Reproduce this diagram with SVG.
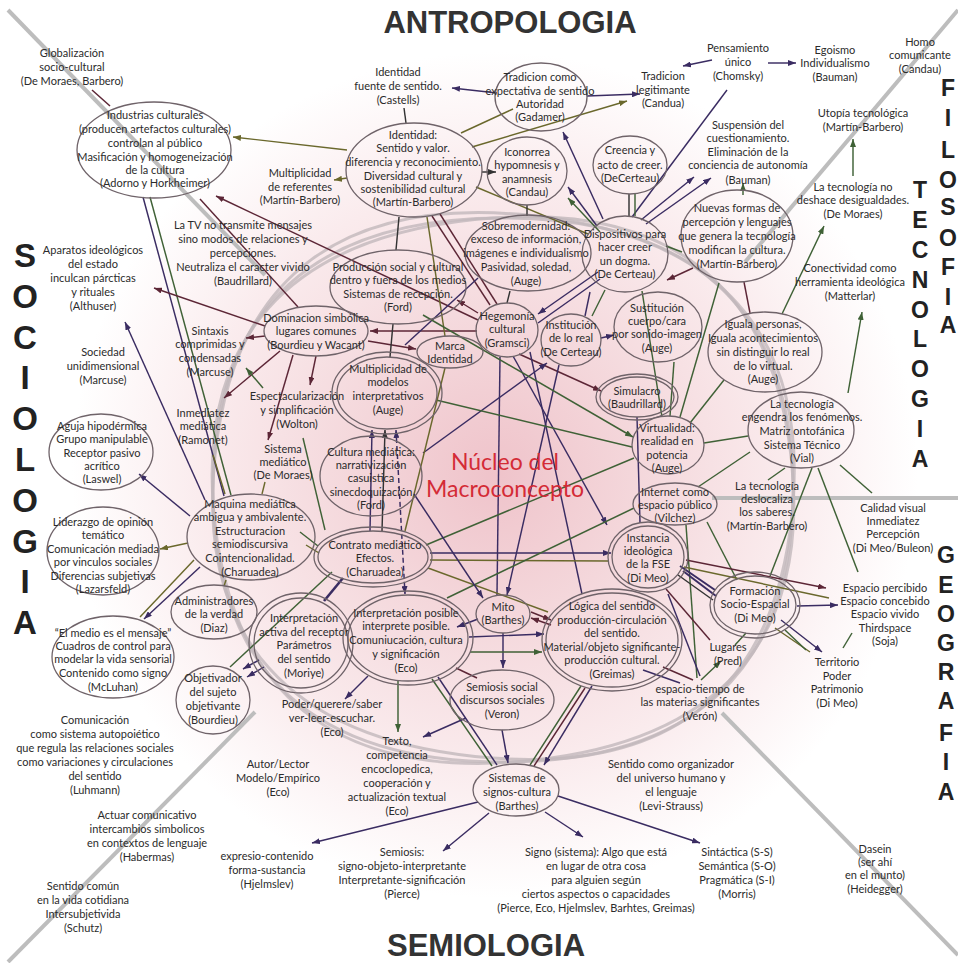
<svg xmlns="http://www.w3.org/2000/svg" width="958" height="963" viewBox="0 0 958 963">
<defs>
<radialGradient id="bg" gradientUnits="userSpaceOnUse" cx="495" cy="475" r="470">
<stop offset="0" stop-color="#efc3ca"/>
<stop offset="0.3" stop-color="#f4d7db"/>
<stop offset="0.62" stop-color="#faebed"/>
<stop offset="0.9" stop-color="#ffffff"/>
</radialGradient>
<marker id="aN" markerWidth="8" markerHeight="6" refX="8" refY="3" orient="auto" markerUnits="userSpaceOnUse"><path d="M0,0 L8,3 L0,6 z" fill="#3a2c62"/></marker>
<marker id="aNs" markerWidth="8" markerHeight="6" refX="0" refY="3" orient="auto" markerUnits="userSpaceOnUse"><path d="M8,0 L0,3 L8,6 z" fill="#3a2c62"/></marker>
<marker id="aG" markerWidth="8" markerHeight="6" refX="8" refY="3" orient="auto" markerUnits="userSpaceOnUse"><path d="M0,0 L8,3 L0,6 z" fill="#3f6136"/></marker>
<marker id="aM" markerWidth="8" markerHeight="6" refX="8" refY="3" orient="auto" markerUnits="userSpaceOnUse"><path d="M0,0 L8,3 L0,6 z" fill="#5c2636"/></marker>
<marker id="aO" markerWidth="8" markerHeight="6" refX="8" refY="3" orient="auto" markerUnits="userSpaceOnUse"><path d="M0,0 L8,3 L0,6 z" fill="#6a682c"/></marker>
<marker id="aD" markerWidth="8" markerHeight="6" refX="8" refY="3" orient="auto" markerUnits="userSpaceOnUse"><path d="M0,0 L8,3 L0,6 z" fill="#333"/></marker>
<path id="ring" d="M213,490 C213,305 318,218 503,218 C688,218 793,305 793,490 C793,675 688,762 503,762 C318,762 213,675 213,490 Z"/>
</defs>
<style>
.t{font-family:Lato,"Liberation Sans",Arial,sans-serif;font-size:11px;fill:#2b2b2b;text-anchor:middle}
.e{fill:none;stroke:#6f6369;stroke-width:1.3}
.ti{font-family:"Liberation Sans",Arial,sans-serif;font-weight:bold;font-size:31px;fill:#333;text-anchor:middle}
.v{font-family:"Liberation Sans",Arial,sans-serif;font-weight:bold;fill:#222;text-anchor:middle}
.vs{font-size:33px}
.vr{font-size:23px}
.nuc{font-family:Lato,"Liberation Sans",Arial,sans-serif;font-size:23px;fill:#d42b36;text-anchor:middle}
.g{fill:none;stroke:#bdbdbd;stroke-width:4}
.gc{fill:none;stroke:#c2b8bb;stroke-width:3;opacity:0.8}
line{stroke-width:1.45;fill:none}
.nav{stroke:#3a2c62}
.grn{stroke:#3f6136}
.mar{stroke:#5c2636}
.olv{stroke:#6a682c}
.dk{stroke:#333}
</style>
<rect width="958" height="963" fill="#fff"/>
<rect width="958" height="963" fill="url(#bg)"/>
<g id="background-lines">
<line class="g" x1="8" y1="10" x2="265" y2="275"/>
<line class="g" x1="958" y1="10" x2="745" y2="262"/>
<line class="g" x1="8" y1="962" x2="255" y2="712"/>
<line class="g" x1="722" y1="713" x2="958" y2="955"/>
<line class="g" x1="712" y1="498" x2="958" y2="498"/>
<use href="#ring" class="gc"/>
<use href="#ring" class="gc" transform="rotate(-6 503 490)"/>
<use href="#ring" class="gc" transform="rotate(6 503 490) translate(0 -4)"/>
</g>
<g id="titles">
<text class="ti" x="510" y="33">ANTROPOLOGIA</text>
<text class="ti" x="486" y="956">SEMIOLOGIA</text>
<g class="v vs">
<text x="25" y="267">S</text><text x="25" y="308">O</text><text x="25" y="349">C</text><text x="25" y="389">I</text><text x="25" y="430">O</text><text x="25" y="471">L</text><text x="25" y="512">O</text><text x="25" y="553">G</text><text x="25" y="593">I</text><text x="25" y="634">A</text>
</g>
<g class="v vr">
<text x="948" y="96">F</text><text x="948" y="126">I</text><text x="948" y="158">L</text><text x="948" y="188">O</text><text x="948" y="215">S</text><text x="948" y="246">O</text><text x="948" y="275">F</text><text x="948" y="305">I</text><text x="948" y="333">A</text>
<text x="920" y="198">T</text><text x="920" y="228">E</text><text x="920" y="258">C</text><text x="920" y="288">N</text><text x="920" y="318">O</text><text x="920" y="347">L</text><text x="920" y="377">O</text><text x="920" y="407">G</text><text x="920" y="437">I</text><text x="920" y="467">A</text>
<text x="946" y="563">G</text><text x="946" y="593">E</text><text x="946" y="622">O</text><text x="946" y="651">G</text><text x="946" y="680">R</text><text x="946" y="709">A</text><text x="946" y="741">F</text><text x="946" y="770">I</text><text x="946" y="800">A</text>
</g>
</g>
<g id="connectors">
<line class="mar" x1="92" y1="90" x2="110" y2="106"/>
<line class="olv" x1="347" y1="150" x2="233" y2="137" marker-end="url(#aO)"/>
<line class="olv" x1="347" y1="178" x2="334" y2="180" marker-end="url(#aO)"/>
<line class="dk" x1="406" y1="123" x2="404" y2="108"/>
<line class="olv" x1="461" y1="133" x2="513" y2="109"/>
<line class="olv" x1="472" y1="147" x2="627" y2="101" marker-end="url(#aO)"/>
<line class="nav" x1="497" y1="93" x2="452" y2="88" marker-end="url(#aN)"/>
<line class="nav" x1="587" y1="96" x2="640" y2="94" marker-end="url(#aN)"/>
<line class="nav" x1="712" y1="60" x2="683" y2="66" marker-end="url(#aN)"/>
<line class="nav" x1="768" y1="63" x2="796" y2="63" marker-end="url(#aN)"/>
<line class="dk" x1="482" y1="172" x2="496" y2="172" marker-end="url(#aD)"/>
<line class="olv" x1="476" y1="187" x2="588" y2="234"/>
<line class="nav" x1="603" y1="219" x2="563" y2="132" marker-end="url(#aN)"/>
<line class="nav" x1="597" y1="226" x2="568" y2="187" marker-end="url(#aN)"/>
<line class="grn" x1="600" y1="232" x2="568" y2="198" marker-end="url(#aG)"/>
<line class="dk" x1="527" y1="205" x2="527" y2="216"/>
<line class="nav" x1="632" y1="217" x2="727" y2="90"/>
<line class="nav" x1="641" y1="220" x2="694" y2="177" marker-end="url(#aN)"/>
<line class="nav" x1="646" y1="224" x2="711" y2="178" marker-end="url(#aN)"/>
<line class="dk" x1="629" y1="216" x2="629" y2="194"/>
<line class="grn" x1="635" y1="216" x2="635" y2="194"/>
<line class="grn" x1="666" y1="246" x2="682" y2="252"/>
<line class="grn" x1="743" y1="195" x2="743" y2="183" marker-end="url(#aG)"/>
<line class="grn" x1="853" y1="176" x2="853" y2="139" marker-end="url(#aG)"/>
<line class="grn" x1="782" y1="314" x2="824" y2="226" marker-end="url(#aG)"/>
<line class="mar" x1="744" y1="282" x2="750" y2="313"/>
<line class="grn" x1="848" y1="393" x2="862" y2="312" marker-end="url(#aG)"/>
<line class="grn" x1="680" y1="417" x2="719" y2="283"/>
<line class="grn" x1="670" y1="416" x2="674" y2="362"/>
<line class="grn" x1="662" y1="417" x2="642" y2="291"/>
<line class="grn" x1="690" y1="423" x2="724" y2="380"/>
<line class="grn" x1="704" y1="443" x2="748" y2="436"/>
<line class="mar" x1="693" y1="268" x2="667" y2="280" marker-end="url(#aM)"/>
<line class="mar" x1="478" y1="320" x2="216" y2="196" marker-end="url(#aM)"/>
<line class="nav" x1="143" y1="197" x2="224" y2="496"/>
<line class="grn" x1="150" y1="197" x2="231" y2="495"/>
<line class="mar" x1="200" y1="199" x2="298" y2="307"/>
<line class="mar" x1="265" y1="326" x2="154" y2="288" marker-end="url(#aM)"/>
<line class="mar" x1="265" y1="336" x2="246" y2="338" marker-end="url(#aM)"/>
<line class="mar" x1="280" y1="351" x2="224" y2="398" marker-end="url(#aM)"/>
<line class="mar" x1="293" y1="355" x2="268" y2="440" marker-end="url(#aM)"/>
<line class="mar" x1="316" y1="356" x2="310" y2="385" marker-end="url(#aM)"/>
<line class="nav" x1="205" y1="500" x2="125" y2="322" marker-end="url(#aN)"/>
<line class="grn" x1="263" y1="388" x2="246" y2="368" marker-end="url(#aG)"/>
<line class="grn" x1="303" y1="438" x2="325" y2="530"/>
<line class="olv" x1="213" y1="455" x2="225" y2="494"/>
<line class="olv" x1="265" y1="482" x2="262" y2="494"/>
<line class="dk" x1="510" y1="291" x2="507" y2="303"/>
<line class="mar" x1="478" y1="313" x2="457" y2="300" marker-end="url(#aM)"/>
<line class="mar" x1="477" y1="331" x2="370" y2="331" marker-end="url(#aM)"/>
<line class="mar" x1="368" y1="341" x2="416" y2="349" marker-end="url(#aM)"/>
<line class="dk" x1="393" y1="324" x2="390" y2="357"/>
<line class="dk" x1="399" y1="217" x2="396" y2="250"/>
<line class="olv" x1="427" y1="217" x2="445" y2="336"/>
<line class="mar" x1="432" y1="216" x2="490" y2="305"/>
<line class="mar" x1="440" y1="214" x2="497" y2="304"/>
<line class="nav" x1="405" y1="345" x2="478" y2="278"/>
<line class="nav" x1="598" y1="272" x2="538" y2="314" marker-end="url(#aN)"/>
<line class="nav" x1="600" y1="279" x2="538" y2="323"/>
<line class="nav" x1="601" y1="338" x2="614" y2="335" marker-end="url(#aN)"/>
<line class="nav" x1="590" y1="292" x2="585" y2="316"/>
<line class="grn" x1="605" y1="290" x2="592" y2="316"/>
<line class="mar" x1="519" y1="354" x2="601" y2="391" marker-end="url(#aM)"/>
<line class="nav" x1="423" y1="453" x2="547" y2="363" marker-end="url(#aN)"/>
<line class="nav" x1="559" y1="365" x2="507" y2="595" marker-end="url(#aN)"/>
<line class="nav" x1="500" y1="357" x2="497" y2="595"/>
<line class="nav" x1="513" y1="356" x2="607" y2="525" marker-end="url(#aN)"/>
<line class="nav" x1="530" y1="352" x2="582" y2="594"/>
<line class="grn" x1="423" y1="315" x2="633" y2="437" marker-end="url(#aG)"/>
<line class="grn" x1="436" y1="400" x2="632" y2="447"/>
<line class="olv" x1="445" y1="368" x2="405" y2="531"/>
<line class="nav" x1="637" y1="417" x2="640" y2="523"/>
<line class="nav" x1="430" y1="553" x2="611" y2="553" marker-end="url(#aN)"/>
<line class="olv" x1="430" y1="560" x2="608" y2="561"/>
<line class="olv" x1="428" y1="568" x2="548" y2="612"/>
<line class="grn" x1="426" y1="545" x2="634" y2="458"/>
<line class="grn" x1="447" y1="598" x2="634" y2="508"/>
<line class="nav" x1="414" y1="494" x2="483" y2="598" marker-end="url(#aN)"/>
<line class="nav" x1="478" y1="619" x2="457" y2="627" marker-end="url(#aN)"/>
<line class="nav" x1="503" y1="633" x2="503" y2="668" marker-end="url(#aN)"/>
<line class="mar" x1="531" y1="612" x2="551" y2="620" marker-end="url(#aM)"/>
<line class="mar" x1="551" y1="625" x2="531" y2="618" marker-end="url(#aM)"/>
<line class="nav" x1="469" y1="637" x2="544" y2="634" marker-end="url(#aN)"/>
<line class="grn" x1="470" y1="652" x2="542" y2="652" marker-end="url(#aG)"/>
<line class="mar" x1="456" y1="668" x2="477" y2="678"/>
<line class="nav" x1="396" y1="430" x2="405" y2="594" stroke-dasharray="5,3" marker-start="url(#aNs)" marker-end="url(#aN)"/>
<line class="nav" x1="370" y1="531" x2="372" y2="430" marker-end="url(#aN)"/>
<line class="dk" x1="382" y1="531" x2="385" y2="430" marker-end="url(#aD)"/>
<line class="nav" x1="343" y1="578" x2="324" y2="601" style="stroke-width:2.6"/>
<line class="grn" x1="318" y1="546" x2="300" y2="532"/>
<line class="olv" x1="319" y1="553" x2="306" y2="545"/>
<line class="grn" x1="398" y1="681" x2="398" y2="732" marker-end="url(#aG)"/>
<line class="nav" x1="368" y1="676" x2="345" y2="699" marker-end="url(#aN)"/>
<line class="grn" x1="432" y1="679" x2="492" y2="766"/>
<line class="nav" x1="438" y1="677" x2="497" y2="765"/>
<line class="nav" x1="466" y1="718" x2="423" y2="737" marker-end="url(#aN)"/>
<line class="nav" x1="502" y1="730" x2="508" y2="763" marker-end="url(#aN)"/>
<line class="grn" x1="581" y1="686" x2="530" y2="765"/>
<line class="mar" x1="585" y1="688" x2="534" y2="766"/>
<line class="nav" x1="592" y1="686" x2="544" y2="765" marker-end="url(#aN)"/>
<line class="nav" x1="478" y1="802" x2="312" y2="843" marker-end="url(#aN)"/>
<line class="nav" x1="489" y1="813" x2="443" y2="851" marker-end="url(#aN)"/>
<line class="nav" x1="545" y1="812" x2="583" y2="837" marker-end="url(#aN)"/>
<line class="nav" x1="558" y1="796" x2="700" y2="843" marker-end="url(#aN)"/>
<line class="grn" x1="698" y1="487" x2="750" y2="452"/>
<line class="grn" x1="686" y1="525" x2="697" y2="678"/>
<line class="grn" x1="701" y1="680" x2="721" y2="661" marker-end="url(#aG)"/>
<line class="grn" x1="707" y1="522" x2="737" y2="580"/>
<line class="nav" x1="680" y1="566" x2="715" y2="590" style="stroke-width:2"/>
<line class="nav" x1="683" y1="571" x2="716" y2="596" style="stroke-width:2"/>
<line class="dk" x1="678" y1="575" x2="713" y2="600"/>
<line class="mar" x1="686" y1="560" x2="826" y2="588" marker-end="url(#aM)"/>
<line class="olv" x1="684" y1="567" x2="829" y2="598"/>
<line class="nav" x1="797" y1="606" x2="838" y2="605" marker-end="url(#aN)"/>
<line class="nav" x1="781" y1="620" x2="822" y2="652" marker-end="url(#aN)"/>
<line class="olv" x1="775" y1="628" x2="810" y2="652"/>
<line class="grn" x1="785" y1="630" x2="806" y2="650"/>
<line class="grn" x1="852" y1="633" x2="843" y2="648"/>
<line class="grn" x1="818" y1="468" x2="858" y2="572"/>
<line class="grn" x1="812" y1="468" x2="770" y2="576"/>
<line class="grn" x1="840" y1="465" x2="872" y2="493"/>
<line class="grn" x1="785" y1="468" x2="768" y2="480"/>
<line class="mar" x1="666" y1="589" x2="710" y2="640"/>
<line class="nav" x1="668" y1="594" x2="700" y2="676"/>
<line class="nav" x1="643" y1="670" x2="680" y2="683"/>
<line class="mar" x1="663" y1="667" x2="693" y2="680"/>
<line class="grn" x1="746" y1="633" x2="735" y2="645"/>
<line class="grn" x1="230" y1="667" x2="332" y2="572"/>
<line class="nav" x1="259" y1="660" x2="243" y2="669" marker-end="url(#aN)"/>
<line class="nav" x1="264" y1="667" x2="247" y2="677" marker-end="url(#aN)"/>
<line class="nav" x1="190" y1="516" x2="139" y2="474" marker-end="url(#aN)"/>
<line class="olv" x1="188" y1="543" x2="160" y2="549" marker-end="url(#aO)"/>
<line class="olv" x1="194" y1="560" x2="140" y2="617"/>
<line class="nav" x1="200" y1="567" x2="144" y2="619" marker-end="url(#aN)"/>
<line class="olv" x1="226" y1="580" x2="224" y2="586"/>
</g>
<g id="n-glob"><text class="t"><tspan x="72" y="57">Globalización</tspan><tspan x="72" y="71">socio-cultural</tspan><tspan x="72" y="85">(De Moraes, Barbero)</tspan></text></g>
<g id="n-ind"><ellipse class="e" cx="154" cy="150" rx="77" ry="48"/><text class="t"><tspan x="155" y="119">Industrias culturales</tspan><tspan x="155" y="133">(producen artefactos culturales)</tspan><tspan x="155" y="147">controlan al público</tspan><tspan x="155" y="161">Masificación y homogeneización</tspan><tspan x="155" y="174">de la cultura</tspan><tspan x="155" y="187">(Adorno y Horkheimer)</tspan></text></g>
<g id="n-castells"><text class="t"><tspan x="398" y="76">Identidad</tspan><tspan x="398" y="90">fuente de sentido.</tspan><tspan x="398" y="104">(Castells)</tspan></text></g>
<g id="n-trad"><ellipse class="e" cx="541" cy="97" rx="46" ry="34"/><text class="t"><tspan x="540" y="81">Tradicion como</tspan><tspan x="540" y="95">expectativa de sentido</tspan><tspan x="540" y="108">Autoridad</tspan><tspan x="540" y="121">(Gadamer)</tspan></text></g>
<g id="n-tradleg"><text class="t"><tspan x="663" y="80">Tradicion</tspan><tspan x="663" y="94">legitimante</tspan><tspan x="663" y="107">(Candua)</tspan></text></g>
<g id="n-pens"><text class="t"><tspan x="738" y="52">Pensamiento</tspan><tspan x="738" y="66">único</tspan><tspan x="738" y="80">(Chomsky)</tspan></text></g>
<g id="n-ego"><text class="t"><tspan x="835" y="54">Egoismo</tspan><tspan x="835" y="67">Individualismo</tspan><tspan x="835" y="81">(Bauman)</tspan></text></g>
<g id="n-homo"><text class="t"><tspan x="920" y="46">Homo</tspan><tspan x="920" y="59">comunicante</tspan><tspan x="920" y="73">(Candau)</tspan></text></g>
<g id="n-ident"><ellipse class="e" cx="414" cy="170" rx="68" ry="47"/><text class="t"><tspan x="413" y="139">Identidad:</tspan><tspan x="413" y="152">Sentido y valor.</tspan><tspan x="413" y="166">diferencia y reconocimiento.</tspan><tspan x="413" y="180">Diversidad cultural y</tspan><tspan x="413" y="193">sostenibilidad cultural</tspan><tspan x="413" y="206">(Martín-Barbero)</tspan></text></g>
<g id="n-multref"><text class="t"><tspan x="300" y="177">Multiplicidad</tspan><tspan x="300" y="191">de referentes</tspan><tspan x="300" y="204">(Martín-Barbero)</tspan></text></g>
<g id="n-icon"><ellipse class="e" cx="527" cy="171" rx="40" ry="34"/><text class="t"><tspan x="527" y="156">Iconorrea</tspan><tspan x="527" y="169">hypomnesis y</tspan><tspan x="527" y="183">anamnesis</tspan><tspan x="527" y="196">(Candau)</tspan></text></g>
<g id="n-creen"><ellipse class="e" cx="630" cy="165" rx="37" ry="29"/><text class="t"><tspan x="630" y="154">Creencia y</tspan><tspan x="630" y="169">acto de creer.</tspan><tspan x="630" y="182">(DeCerteau)</tspan></text></g>
<g id="n-susp"><text class="t"><tspan x="748" y="129">Suspensión del</tspan><tspan x="748" y="142">cuestionamiento.</tspan><tspan x="748" y="156">Eliminación de  la</tspan><tspan x="748" y="169">conciencia de autonomía</tspan><tspan x="748" y="184">(Bauman)</tspan></text></g>
<g id="n-utop"><text class="t"><tspan x="863" y="117">Utopía tecnológica</tspan><tspan x="863" y="131">(Martín-Barbero)</tspan></text></g>
<g id="n-tecno"><text class="t"><tspan x="853" y="191">La tecnología no</tspan><tspan x="853" y="204">deshace desigualdades.</tspan><tspan x="853" y="218">(De Moraes)</tspan></text></g>
<g id="n-nuevas"><ellipse class="e" cx="737" cy="236" rx="56" ry="46"/><text class="t"><tspan x="737" y="212">Nuevas formas de</tspan><tspan x="737" y="226">percepción y lenguajes</tspan><tspan x="737" y="240">que genera la tecnología</tspan><tspan x="737" y="254">modifican la cultura.</tspan><tspan x="737" y="268">(Martín-Barbero)</tspan></text></g>
<g id="n-sobre"><ellipse class="e" cx="528" cy="253" rx="63" ry="38"/><text class="t"><tspan x="526" y="230">Sobremodernidad:</tspan><tspan x="526" y="243">exceso de información,</tspan><tspan x="526" y="257">imágenes e individualismo</tspan><tspan x="526" y="271">Pasividad, soledad,</tspan><tspan x="526" y="285">(Auge)</tspan></text></g>
<g id="n-disp"><ellipse class="e" cx="625" cy="254" rx="43" ry="38"/><text class="t"><tspan x="625" y="238">Dispositivos para</tspan><tspan x="625" y="251">hacer creer</tspan><tspan x="625" y="265">un dogma.</tspan><tspan x="625" y="278">(De Certeau)</tspan></text></g>
<g id="n-latv"><text class="t"><tspan x="243" y="229">La TV no transmite mensajes</tspan><tspan x="243" y="243">sino modos de relaciones y</tspan><tspan x="243" y="257">percepciones.</tspan><tspan x="243" y="271">Neutraliza el caracter vivido</tspan><tspan x="243" y="285">(Baudrillard)</tspan></text></g>
<g id="n-aparatos"><text class="t"><tspan x="93" y="254">Aparatos ideológicos</tspan><tspan x="93" y="268">del estado</tspan><tspan x="93" y="282">inculcan párcticas</tspan><tspan x="93" y="296">y rituales</tspan><tspan x="93" y="310">(Althuser)</tspan></text></g>
<g id="n-prod"><ellipse class="e" cx="398" cy="287" rx="68" ry="37"/><text class="t"><tspan x="398" y="271">Producción social y cultural</tspan><tspan x="398" y="284">dentro y fuera de los medios</tspan><tspan x="398" y="298">Sistemas de recepción.</tspan><tspan x="398" y="311">(Ford)</tspan></text></g>
<g id="n-dom"><ellipse class="e" cx="316" cy="331" rx="52" ry="25"/><text class="t"><tspan x="316" y="322">Dominacion simbólica</tspan><tspan x="316" y="335">lugares comunes</tspan><tspan x="316" y="349">(Bourdieu y Wacant)</tspan></text></g>
<g id="n-heg"><ellipse class="e" cx="507" cy="330" rx="31" ry="27"/><text class="t"><tspan x="507" y="320">Hegemonía</tspan><tspan x="507" y="333">cultural</tspan><tspan x="507" y="347">(Gramsci)</tspan></text></g>
<g id="n-inst"><ellipse class="e" cx="571" cy="340" rx="30" ry="26"/><text class="t"><tspan x="571" y="329">Institución</tspan><tspan x="571" y="342">de lo real</tspan><tspan x="571" y="356">(De Certeau)</tspan></text></g>
<g id="n-sust"><ellipse class="e" cx="658" cy="327" rx="44" ry="35"/><text class="t"><tspan x="657" y="312">Sustitución</tspan><tspan x="657" y="325">cuerpo/cara</tspan><tspan x="657" y="338">por sonido-imagen</tspan><tspan x="657" y="352">(Auge)</tspan></text></g>
<g id="n-iguala"><ellipse class="e" cx="765" cy="352" rx="57" ry="40"/><text class="t"><tspan x="763" y="328">Iguala personas,</tspan><tspan x="763" y="342">Iguala acontecimientos</tspan><tspan x="763" y="356">sin distinguir lo real</tspan><tspan x="763" y="370">de lo virtual.</tspan><tspan x="763" y="383">(Auge)</tspan></text></g>
<g id="n-conect"><text class="t"><tspan x="850" y="272">Conectividad como</tspan><tspan x="850" y="286">herramienta ideológica</tspan><tspan x="850" y="300">(Matterlar)</tspan></text></g>
<g id="n-sintaxis"><text class="t"><tspan x="210" y="335">Sintaxis</tspan><tspan x="210" y="348">comprimidas y</tspan><tspan x="210" y="362">condensadas</tspan><tspan x="210" y="376">(Marcuse)</tspan></text></g>
<g id="n-sociedad"><text class="t"><tspan x="103" y="356">Sociedad</tspan><tspan x="103" y="370">unidimensional</tspan><tspan x="103" y="384">(Marcuse)</tspan></text></g>
<g id="n-marca"><ellipse class="e" cx="450" cy="352" rx="33" ry="16"/><text class="t"><tspan x="450" y="350">Marca</tspan><tspan x="450" y="363">Identidad</tspan></text></g>
<g id="n-multmod"><ellipse class="e" cx="387" cy="393" rx="50" ry="36"/><ellipse class="e" cx="387" cy="393" rx="55" ry="41"/><text class="t"><tspan x="388" y="373">Multiplicidad de</tspan><tspan x="388" y="386">modelos</tspan><tspan x="388" y="400">interpretativos</tspan><tspan x="388" y="414">(Auge)</tspan></text></g>
<g id="n-espect"><text class="t"><tspan x="297" y="400">Espectacularización</tspan><tspan x="297" y="414">y simplificación</tspan><tspan x="297" y="428">(Wolton)</tspan></text></g>
<g id="n-inmed"><text class="t"><tspan x="203" y="417">Inmediatez</tspan><tspan x="203" y="430">mediática</tspan><tspan x="203" y="444">(Ramonet)</tspan></text></g>
<g id="n-aguja"><ellipse class="e" cx="101" cy="452" rx="52" ry="38"/><text class="t"><tspan x="102" y="430">Aguja hipodérmica</tspan><tspan x="102" y="443">Grupo manipulable</tspan><tspan x="102" y="457">Receptor pasivo</tspan><tspan x="102" y="470">acrítico</tspan><tspan x="102" y="483">(Laswel)</tspan></text></g>
<g id="n-sistmed"><text class="t"><tspan x="283" y="453">Sistema</tspan><tspan x="283" y="466">mediático</tspan><tspan x="283" y="479">(De Moraes)</tspan></text></g>
<g id="n-cultmed"><ellipse class="e" cx="371" cy="476" rx="51" ry="40"/><text class="t"><tspan x="371" y="456">Cultura mediática:</tspan><tspan x="371" y="469">narrativización</tspan><tspan x="371" y="482">casuistica</tspan><tspan x="371" y="496">sinecdoquización</tspan><tspan x="371" y="509">(Ford)</tspan></text></g>
<g id="n-nucleo"><text class="nuc"><tspan x="505" y="470">Núcleo del</tspan><tspan x="505" y="497">Macroconcepto</tspan></text></g>
<g id="n-virt"><ellipse class="e" cx="668" cy="445" rx="36" ry="29"/><text class="t"><tspan x="667" y="432">Virtualidad:</tspan><tspan x="667" y="445">realidad en</tspan><tspan x="667" y="459">potencia</tspan><tspan x="667" y="472">(Auge)</tspan></text></g>
<g id="n-simul"><ellipse class="e" cx="637" cy="397" rx="37" ry="20"/><ellipse class="e" cx="637" cy="397" rx="41" ry="23"/><text class="t"><tspan x="637" y="395">Simulacro</tspan><tspan x="637" y="408">(Baudrillard)</tspan></text></g>
<g id="n-vial"><ellipse class="e" cx="801" cy="430" rx="53" ry="38"/><text class="t"><tspan x="802" y="408">La tecnología</tspan><tspan x="802" y="421">engendra los fenómenos.</tspan><tspan x="802" y="435">Matriz ontofánica</tspan><tspan x="802" y="449">Sistema Técnico</tspan><tspan x="802" y="462">(Vial)</tspan></text></g>
<g id="n-internet"><ellipse class="e" cx="675" cy="504" rx="42" ry="21"/><text class="t"><tspan x="675" y="496">Internet como</tspan><tspan x="675" y="509">espacio público</tspan><tspan x="675" y="522">(Vilchez)</tspan></text></g>
<g id="n-desloc"><text class="t"><tspan x="767" y="490">La tecnología</tspan><tspan x="767" y="503">deslocaliza</tspan><tspan x="767" y="516">los saberes.</tspan><tspan x="767" y="530">(Martín-Barbero)</tspan></text></g>
<g id="n-calidad"><text class="t"><tspan x="893" y="512">Calidad visual</tspan><tspan x="893" y="525">Inmediatez</tspan><tspan x="893" y="538">Percepción</tspan><tspan x="893" y="552">(Di Meo/Buleon)</tspan></text></g>
<g id="n-maquina"><ellipse class="e" cx="251" cy="537" rx="64" ry="43"/><text class="t"><tspan x="250" y="508">Maquina mediática</tspan><tspan x="250" y="521">ambigua y ambivalente.</tspan><tspan x="250" y="535">Estructuracion</tspan><tspan x="250" y="548">semiodiscursiva</tspan><tspan x="250" y="562">Cointencionalidad.</tspan><tspan x="250" y="576">(Charuadea)</tspan></text></g>
<g id="n-lider"><ellipse class="e" cx="103" cy="551" rx="56" ry="44"/><text class="t"><tspan x="103" y="526">Liderazgo de opinión</tspan><tspan x="103" y="539">temático</tspan><tspan x="103" y="553">Comunicación mediada</tspan><tspan x="103" y="566">por vinculos sociales</tspan><tspan x="103" y="580">Diferencias subjetivas</tspan><tspan x="103" y="593">(Lazarsfeld)</tspan></text></g>
<g id="n-contrato"><ellipse class="e" cx="373" cy="557" rx="55" ry="26"/><ellipse class="e" cx="373" cy="557" rx="59" ry="30"/><text class="t"><tspan x="375" y="549">Contrato mediático</tspan><tspan x="375" y="562">Efectos.</tspan><tspan x="375" y="576">(Charuadea)</tspan></text></g>
<g id="n-instancia"><ellipse class="e" cx="648" cy="557" rx="36" ry="31"/><ellipse class="e" cx="648" cy="557" rx="40" ry="35"/><text class="t"><tspan x="648" y="542">Instancia</tspan><tspan x="648" y="555">ideológica</tspan><tspan x="648" y="568">de la FSE</tspan><tspan x="648" y="582">(Di Meo)</tspan></text></g>
<g id="n-formacion"><ellipse class="e" cx="755" cy="605" rx="41" ry="29"/><ellipse class="e" cx="755" cy="605" rx="45" ry="33"/><text class="t"><tspan x="755" y="595">Formación</tspan><tspan x="755" y="608">Socio-Espacial</tspan><tspan x="755" y="622">(Di Meo)</tspan></text></g>
<g id="n-espacio"><text class="t"><tspan x="885" y="592">Espacio percibido</tspan><tspan x="885" y="605">Espacio concebido</tspan><tspan x="885" y="618">Espacio vivido</tspan><tspan x="885" y="632">Thirdspace</tspan><tspan x="885" y="645">(Soja)</tspan></text></g>
<g id="n-territorio"><text class="t"><tspan x="837" y="666">Territorio</tspan><tspan x="837" y="680">Poder</tspan><tspan x="837" y="693">Patrimonio</tspan><tspan x="837" y="707">(Di Meo)</tspan></text></g>
<g id="n-lugares"><text class="t"><tspan x="728" y="651">Lugares</tspan><tspan x="728" y="665">(Pred)</tspan></text></g>
<g id="n-esptiempo"><text class="t"><tspan x="700" y="693">espacio-tiempo de</tspan><tspan x="700" y="706">las materias significantes</tspan><tspan x="700" y="720">(Verón)</tspan></text></g>
<g id="n-admin"><ellipse class="e" cx="214" cy="612" rx="43" ry="27"/><text class="t"><tspan x="214" y="605">Administradores</tspan><tspan x="214" y="618">de la verdad</tspan><tspan x="214" y="632">(Diaz)</tspan></text></g>
<g id="n-medio"><ellipse class="e" cx="113" cy="657" rx="61" ry="41"/><text class="t"><tspan x="113" y="637">“El medio es el mensaje”</tspan><tspan x="113" y="650">Cuadros de control para</tspan><tspan x="113" y="663">modelar la vida sensorial</tspan><tspan x="113" y="677">Contenido como signo</tspan><tspan x="113" y="691">(McLuhan)</tspan></text></g>
<g id="n-interpact"><ellipse class="e" cx="301" cy="643" rx="47" ry="45"/><ellipse class="e" cx="301" cy="643" rx="52" ry="50"/><text class="t"><tspan x="304" y="622">Interpretación</tspan><tspan x="304" y="636">activa del receptor</tspan><tspan x="304" y="649">Parámetros</tspan><tspan x="304" y="663">del sentido</tspan><tspan x="304" y="677">(Moriye)</tspan></text></g>
<g id="n-interpos"><ellipse class="e" cx="408" cy="638" rx="60" ry="43"/><ellipse class="e" cx="408" cy="638" rx="65" ry="47"/><text class="t"><tspan x="406" y="617">Interpretación posible</tspan><tspan x="406" y="630">interprete posible.</tspan><tspan x="406" y="644">Comuniucación, cultura</tspan><tspan x="406" y="658">y significación</tspan><tspan x="406" y="672">(Eco)</tspan></text></g>
<g id="n-mito"><ellipse class="e" cx="503" cy="614" rx="27" ry="19"/><text class="t"><tspan x="503" y="611">Mito</tspan><tspan x="503" y="624">(Barthes)</tspan></text></g>
<g id="n-logica"><ellipse class="e" cx="612" cy="640" rx="66" ry="47"/><ellipse class="e" cx="612" cy="640" rx="70" ry="51"/><text class="t"><tspan x="612" y="610">Lógica del sentido</tspan><tspan x="612" y="624">producción-circulación</tspan><tspan x="612" y="637">del sentido.</tspan><tspan x="612" y="651">Material/objeto significante-</tspan><tspan x="612" y="664">producción cultural.</tspan><tspan x="612" y="678">(Greimas)</tspan></text></g>
<g id="n-semsoc"><ellipse class="e" cx="502" cy="700" rx="52" ry="30"/><text class="t"><tspan x="502" y="691">Semiosis social</tspan><tspan x="502" y="704">discursos sociales</tspan><tspan x="502" y="718">(Veron)</tspan></text></g>
<g id="n-objet"><ellipse class="e" cx="213" cy="700" rx="37" ry="34"/><text class="t"><tspan x="213" y="682">Objetivador</tspan><tspan x="213" y="696">del sujeto</tspan><tspan x="213" y="710">objetivante</tspan><tspan x="213" y="724">(Bourdieu)</tspan></text></g>
<g id="n-poder"><text class="t"><tspan x="332" y="708">Poder/querere/saber</tspan><tspan x="332" y="722">ver-leer-escuchar.</tspan><tspan x="332" y="736">(Eco)</tspan></text></g>
<g id="n-texto"><text class="t"><tspan x="397" y="745">Texto,</tspan><tspan x="397" y="759">competencia</tspan><tspan x="397" y="773">encoclopedica,</tspan><tspan x="397" y="787">cooperación y</tspan><tspan x="397" y="801">actualización textual</tspan><tspan x="397" y="815">(Eco)</tspan></text></g>
<g id="n-sistemas"><ellipse class="e" cx="516" cy="790" rx="43" ry="26"/><text class="t"><tspan x="517" y="782">Sistemas de</tspan><tspan x="517" y="796">signos-cultura</tspan><tspan x="517" y="810">(Barthes)</tspan></text></g>
<g id="n-comunic"><text class="t"><tspan x="95" y="724">Comunicación</tspan><tspan x="95" y="738">como sistema autopoiético</tspan><tspan x="95" y="752">que regula las relaciones sociales</tspan><tspan x="95" y="766">como variaciones y circulaciones</tspan><tspan x="95" y="780">del sentido</tspan><tspan x="95" y="794">(Luhmann)</tspan></text></g>
<g id="n-autor"><text class="t"><tspan x="278" y="768">Autor/Lector</tspan><tspan x="278" y="782">Modelo/Empírico</tspan><tspan x="278" y="796">(Eco)</tspan></text></g>
<g id="n-actuar"><text class="t"><tspan x="147" y="819">Actuar comunicativo</tspan><tspan x="147" y="833">intercambios simbolicos</tspan><tspan x="147" y="847">en contextos de lenguaje</tspan><tspan x="147" y="861">(Habermas)</tspan></text></g>
<g id="n-expresio"><text class="t"><tspan x="267" y="860">expresio-contenido</tspan><tspan x="267" y="874">forma-sustancia</tspan><tspan x="267" y="888">(Hjelmslev)</tspan></text></g>
<g id="n-sentcomun"><text class="t"><tspan x="83" y="890">Sentido común</tspan><tspan x="83" y="904">en la vida cotidiana</tspan><tspan x="83" y="918">Intersubjetivida</tspan><tspan x="83" y="932">(Schutz)</tspan></text></g>
<g id="n-semiosis"><text class="t"><tspan x="402" y="856">Semiosis:</tspan><tspan x="402" y="870">signo-objeto-interpretante</tspan><tspan x="402" y="884">Interpretante-significación</tspan><tspan x="402" y="898">(Pierce)</tspan></text></g>
<g id="n-signo"><text class="t"><tspan x="596" y="856">Signo (sistema): Algo que está</tspan><tspan x="596" y="870">en lugar de otra cosa</tspan><tspan x="596" y="884">para alguien según</tspan><tspan x="596" y="898">ciertos aspectos o capacidades</tspan><tspan x="596" y="912">(Pierce, Eco, Hjelmslev, Barhtes, Greimas)</tspan></text></g>
<g id="n-sentorg"><text class="t"><tspan x="671" y="768">Sentido como organizador</tspan><tspan x="671" y="782">del universo humano y</tspan><tspan x="671" y="796">el lenguaje</tspan><tspan x="671" y="810">(Levi-Strauss)</tspan></text></g>
<g id="n-sintact"><text class="t"><tspan x="737" y="856">Sintáctica (S-S)</tspan><tspan x="737" y="870">Semántica (S-O)</tspan><tspan x="737" y="884">Pragmática (S-I)</tspan><tspan x="737" y="898">(Morris)</tspan></text></g>
<g id="n-dasein"><text class="t"><tspan x="875" y="853">Dasein</tspan><tspan x="875" y="866">(ser ahí</tspan><tspan x="875" y="879">en el munto)</tspan><tspan x="875" y="893">(Heidegger)</tspan></text></g>
</svg>
